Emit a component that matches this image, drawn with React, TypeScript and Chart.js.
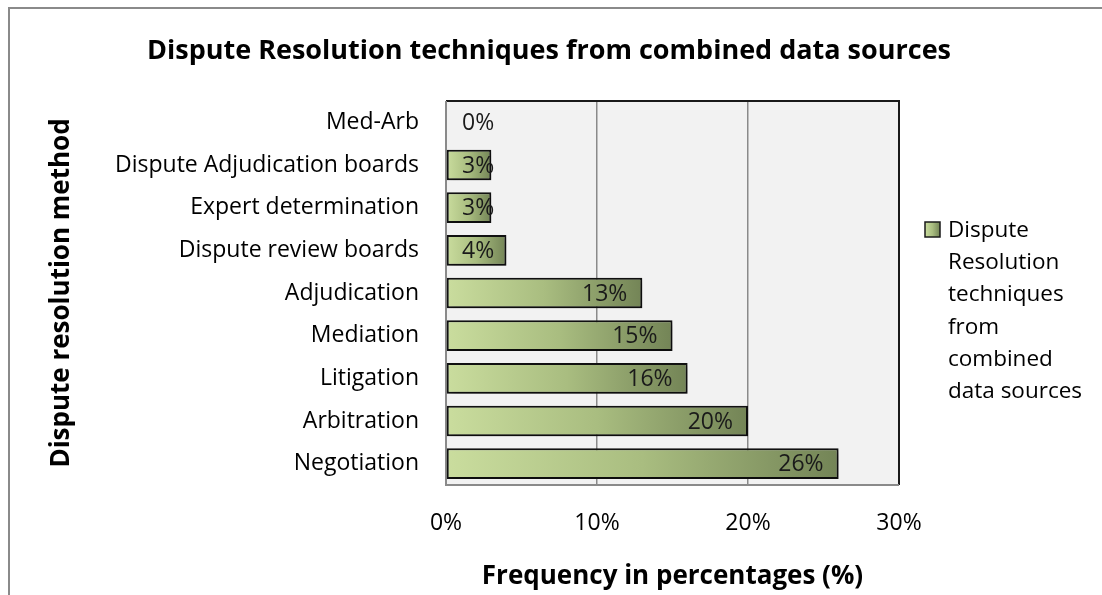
import React, { useEffect, useRef } from 'react';
import { Chart, registerables } from 'chart.js';

Chart.register(...registerables);

const categories = [
  'Med-Arb',
  'Dispute Adjudication boards',
  'Expert determination',
  'Dispute review boards',
  'Adjudication',
  'Mediation',
  'Litigation',
  'Arbitration',
  'Negotiation',
];
const frequencies = [0, 3, 3, 4, 13, 15, 16, 20, 26];
const chartTitle = 'Dispute Resolution techniques from combined data sources';
const seriesName = 'Dispute Resolution techniques from combined data sources';
const legendLines = ['Dispute', 'Resolution', 'techniques', 'from', 'combined', 'data sources'];
const xAxisTitle = 'Frequency in percentages (%)';
const yAxisTitle = 'Dispute resolution method';
const xMin = 0;
const xMax = 30;
const xStep = 10;

const FONT = '"Open Sans", "Noto Sans", "DejaVu Sans", sans-serif';
const LIGHT = '#cadd9e';
const MID = '#a9bd80';
const DARK = '#738456';

function makeGradient(ctx: CanvasRenderingContext2D, x0: number, x1: number) {
  const g = ctx.createLinearGradient(x0, 0, Math.max(x1, x0 + 1), 0);
  g.addColorStop(0, LIGHT);
  g.addColorStop(0.5, MID);
  g.addColorStop(1, DARK);
  return g;
}

const decorPlugin = {
  id: 'decor',
  beforeDraw(chart: any) {
    const { ctx, chartArea: a } = chart;
    ctx.save();
    ctx.fillStyle = '#ffffff';
    ctx.fillRect(0, 0, chart.width, chart.height);
    ctx.fillStyle = '#f2f2f2';
    ctx.fillRect(a.left, a.top, a.right - a.left, a.bottom - a.top);
    // outer frame
    ctx.strokeStyle = '#8a8a8a';
    ctx.lineWidth = 2;
    ctx.beginPath();
    ctx.moveTo(9, chart.height);
    ctx.lineTo(9, 8);
    ctx.lineTo(chart.width, 8);
    ctx.stroke();
    // title
    ctx.fillStyle = '#000000';
    ctx.font = `bold 27px ${FONT}`;
    ctx.textAlign = 'center';
    ctx.textBaseline = 'middle';
    ctx.fillText(chartTitle, 549, 51);
    ctx.restore();
  },
  beforeDatasetsDraw(chart: any) {
    const { ctx, chartArea: a } = chart;
    ctx.save();
    ctx.strokeStyle = '#1a1a1a';
    ctx.lineWidth = 2;
    ctx.beginPath();
    ctx.moveTo(a.left, a.top);
    ctx.lineTo(a.right, a.top);
    ctx.lineTo(a.right, a.bottom);
    ctx.stroke();
    ctx.strokeStyle = '#8a8a8a';
    ctx.beginPath();
    ctx.moveTo(a.left, a.top);
    ctx.lineTo(a.left, a.bottom);
    ctx.lineTo(a.right, a.bottom);
    ctx.stroke();
    ctx.restore();
  },
  beforeDatasetDraw(chart: any) {
    const ctx = chart.ctx;
    ctx.save();
    ctx.shadowColor = 'rgba(0,0,0,0.35)';
    ctx.shadowBlur = 5;
    ctx.shadowOffsetX = 2;
    ctx.shadowOffsetY = 3;
  },
  afterDatasetDraw(chart: any) {
    chart.ctx.restore();
  },
  afterDatasetsDraw(chart: any) {
    const { ctx } = chart;
    const meta = chart.getDatasetMeta(0);
    const xs = chart.scales.x;
    const x0 = xs.getPixelForValue(0);
    ctx.save();
    ctx.font = `23px ${FONT}`;
    ctx.fillStyle = '#1a1a1a';
    ctx.textAlign = 'right';
    ctx.textBaseline = 'middle';
    meta.data.forEach((el: any, i: number) => {
      const text = `${frequencies[i]}%`;
      const w = ctx.measureText(text).width;
      const right = Math.max(el.x - 15, x0 + 16 + w);
      ctx.fillText(text, right, el.y + 1);
    });
    // legend
    const bx = 925;
    const by = 222;
    ctx.fillStyle = makeGradient(ctx, bx, bx + 15);
    ctx.fillRect(bx, by, 15, 15);
    ctx.strokeStyle = '#1a1a1a';
    ctx.lineWidth = 1.5;
    ctx.strokeRect(bx, by, 15, 15);
    ctx.fillStyle = '#000000';
    ctx.textAlign = 'left';
    ctx.font = `22.5px ${FONT}`;
    legendLines.forEach((line, i) => {
      ctx.fillText(line, 948, 230.5 + i * 32.2);
    });
    ctx.restore();
  },
};

export default function App() {
  const ref = useRef<HTMLCanvasElement | null>(null);
  useEffect(() => {
    if (!ref.current) return;
    const chart = new Chart(ref.current, {
      type: 'bar',
      data: {
        labels: categories,
        datasets: [
          {
            label: seriesName,
            data: frequencies,
            backgroundColor: (c: any) => {
              const chart = c.chart;
              const xs = chart.scales && chart.scales.x;
              if (!xs || !chart.chartArea) return MID;
              const a = xs.getPixelForValue(0);
              const b = xs.getPixelForValue(c.raw);
              return makeGradient(chart.ctx, a, b);
            },
            borderColor: '#111111',
            borderWidth: 2,
            borderSkipped: false,
            barPercentage: 0.72,
            categoryPercentage: 1,
          },
        ],
      },
      options: {
        indexAxis: 'y',
        responsive: false,
        animation: false,
        layout: { padding: { top: 101, right: 203, left: 0, bottom: 0 } },
        plugins: {
          legend: { display: false },
          title: { display: false },
          tooltip: { enabled: false },
        },
        scales: {
          x: {
            type: 'linear',
            min: xMin,
            max: xMax,
            afterFit: (s: any) => {
              s.height = 110;
            },
            ticks: {
              stepSize: xStep,
              padding: 25,
              color: '#000000',
              font: { family: FONT, size: 23 },
              callback: (v: any) => `${v}%`,
            },
            grid: { color: '#8a8a8a', lineWidth: 1.5, drawTicks: false },
            border: { display: false },
            title: {
              display: true,
              text: xAxisTitle,
              color: '#000000',
              font: { family: FONT, size: 26, weight: 'bold' },
              padding: { top: 0, bottom: 3 },
            },
          },
          y: {
            type: 'category',
            afterFit: (s: any) => {
              s.width = 446;
            },
            ticks: {
              padding: 27,
              color: '#000000',
              font: { family: FONT, size: 23 },
            },
            grid: { display: false, drawTicks: false },
            border: { display: false },
            title: {
              display: true,
              text: yAxisTitle,
              color: '#000000',
              font: { family: FONT, size: 26, weight: 'bold' },
              padding: { top: 46, bottom: 0 },
            },
          },
        },
      } as any,
      plugins: [decorPlugin],
    });
    return () => chart.destroy();
  }, []);
  return (
    <div style={{ position: 'fixed', left: 0, top: 0, width: 1102, height: 595, background: '#fff' }}>
      <canvas ref={ref} width={1102} height={595} style={{ display: 'block', width: 1102, height: 595 }} />
    </div>
  );
}
